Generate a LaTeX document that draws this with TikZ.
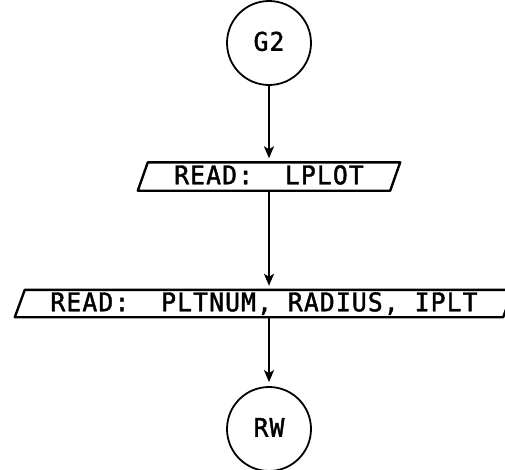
\documentclass[tikz,border=0pt]{standalone}
\usepackage{fontspec}
\usepackage{graphicx}
\newfontfamily\plotfont{DejaVu Sans Mono}[LetterSpace=4.5, FakeBold=1.6]
\newcommand\ptxt[1]{\scalebox{1}[1.04]{#1}}
\usetikzlibrary{arrows.meta,calc}
\begin{document}
\begin{tikzpicture}[x=1pt,y=-1pt,
  txt/.style={font=\plotfont\fontsize{24.7}{28}\selectfont, inner sep=0pt, text height=17pt, text depth=1.5pt},
  conn/.style={circle, draw, line width=1.8pt, minimum size=84pt, txt},
  iobox/.style={txt, minimum height=28pt},
  flow/.style={line width=2pt, -{Stealth[length=12pt,width=10pt,inset=3pt]}},
  para/.style={line width=2.4pt, line join=round}]
\useasboundingbox (0,0) rectangle (505,469);
\node[conn] (g2) at (269,43) {\ptxt{G2}};
\node[iobox, minimum width=252pt] (b1) at (269,176.5) {\ptxt{READ:\ \ LPLOT}};
\node[iobox, minimum width=488pt, minimum height=27pt] (b2) at (264,303.5) {\ptxt{READ:\ \ PLTNUM,\ RADIUS,\ IPLT}};
\node[conn] (rw) at (269,429) {\ptxt{RW}};
\draw[para] ($(b1.north west)+(5,0)$) -- ($(b1.north east)+(5,0)$) -- ($(b1.south east)+(-5,0)$) -- ($(b1.south west)+(-5,0)$) -- cycle;
\draw[para] ($(b2.north west)+(5,0)$) -- ($(b2.north east)+(5,0)$) -- ($(b2.south east)+(-5,0)$) -- ($(b2.south west)+(-5,0)$) -- cycle;
\draw[flow, shorten >=4pt] (g2) -- (g2 |- b1.north);
\draw[flow, shorten >=4pt] (g2 |- b1.south) -- (g2 |- b2.north);
\draw[flow, shorten >=4pt] (g2 |- b2.south) -- (rw);
\end{tikzpicture}
\end{document}
